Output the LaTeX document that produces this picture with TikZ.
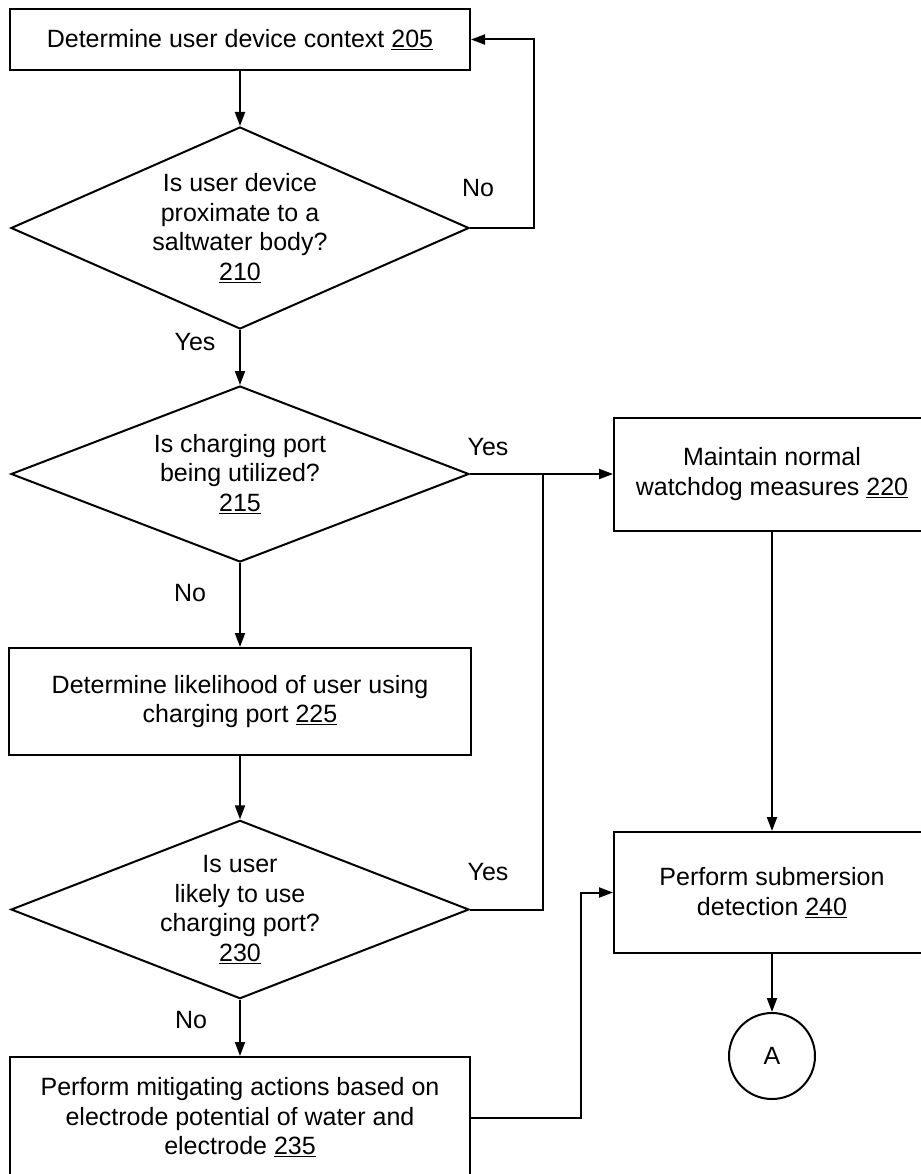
\documentclass[tikz,border=0pt]{standalone}
\usepackage{fontspec}
\setmainfont{Liberation Sans}
\usetikzlibrary{shapes.geometric,arrows.meta}
\begin{document}
\begin{tikzpicture}[x=1pt,y=-1pt,
  every node/.style={font=\fontsize{25}{29.5}\selectfont},
  box/.style={draw,line width=2pt,inner sep=0pt,align=center,rectangle},
  dia/.style={draw,line width=2pt,inner sep=0pt,align=center,diamond,aspect=2.27},
  lbl/.style={inner sep=0pt},
  conn/.style={line width=2pt},
  arr/.style={line width=2pt,-{Triangle[length=14pt,width=10pt]}}
]
\useasboundingbox (0,0) rectangle (920,1174);

\node[box,minimum width=460pt,minimum height=61pt] (n205) at (240,39.5) {Determine user device context \underline{205}};
\node[dia,minimum width=458pt,minimum height=202pt] (n210) at (240,228) {Is user device\\proximate to a\\saltwater body?\\\underline{210}};
\node[dia,minimum width=458pt,minimum height=176pt] (n215) at (240,474) {Is charging port\\being utilized?\\\underline{215}};
\node[box,minimum width=316pt,minimum height=113pt] (n220) at (772,474) {Maintain normal\\watchdog measures \underline{220}};
\node[box,minimum width=462pt,minimum height=107pt] (n225) at (240,701.5) {Determine likelihood of user using\\charging port \underline{225}};
\node[dia,minimum width=458pt,minimum height=169pt] (n230) at (240,909.5) {Is user\\likely to use\\charging port?\\\underline{230}};
\node[box,minimum width=316pt,minimum height=121pt] (n240) at (772,892.5) {Perform submersion\\detection \underline{240}};
\node[box,minimum width=460pt,minimum height=121pt] (n235) at (240,1117.5) {Perform mitigating actions based on\\electrode potential of water and\\electrode \underline{235}};
\node[draw,circle,line width=2pt,minimum size=86pt,inner sep=0pt] (nA) at (772,1056) {A};

\coordinate (j1) at (543,474);

\node[lbl] (l1) at (478,188) {No};
\node[lbl] (l2) at (195,342) {Yes};
\node[lbl] (l3) at (488,447) {Yes};
\node[lbl] (l4) at (190,593) {No};
\node[lbl] (l5) at (488,872) {Yes};
\node[lbl] (l6) at (191,1020) {No};

\draw[arr] (n205.south) -- (n210.north);
\draw[arr] (n210.east) -- ++(64,0) |- (n205.east);
\draw[arr] (n210.south) -- (n215.north);
\draw[arr] (n215.east) -- (n220.west);
\draw[arr] (n215.south) -- (n225.north);
\draw[arr] (n225.south) -- (n230.north);
\draw[conn] (n230.east) -| (j1);
\draw[arr] (n230.south) -- (n235.north);
\draw[arr] (n235.east) -- ++(110,0) |- (n240.west);
\draw[arr] (n220.south) -- (n240.north);
\draw[arr] (n240.south) -- (nA.north);
\end{tikzpicture}
\end{document}
